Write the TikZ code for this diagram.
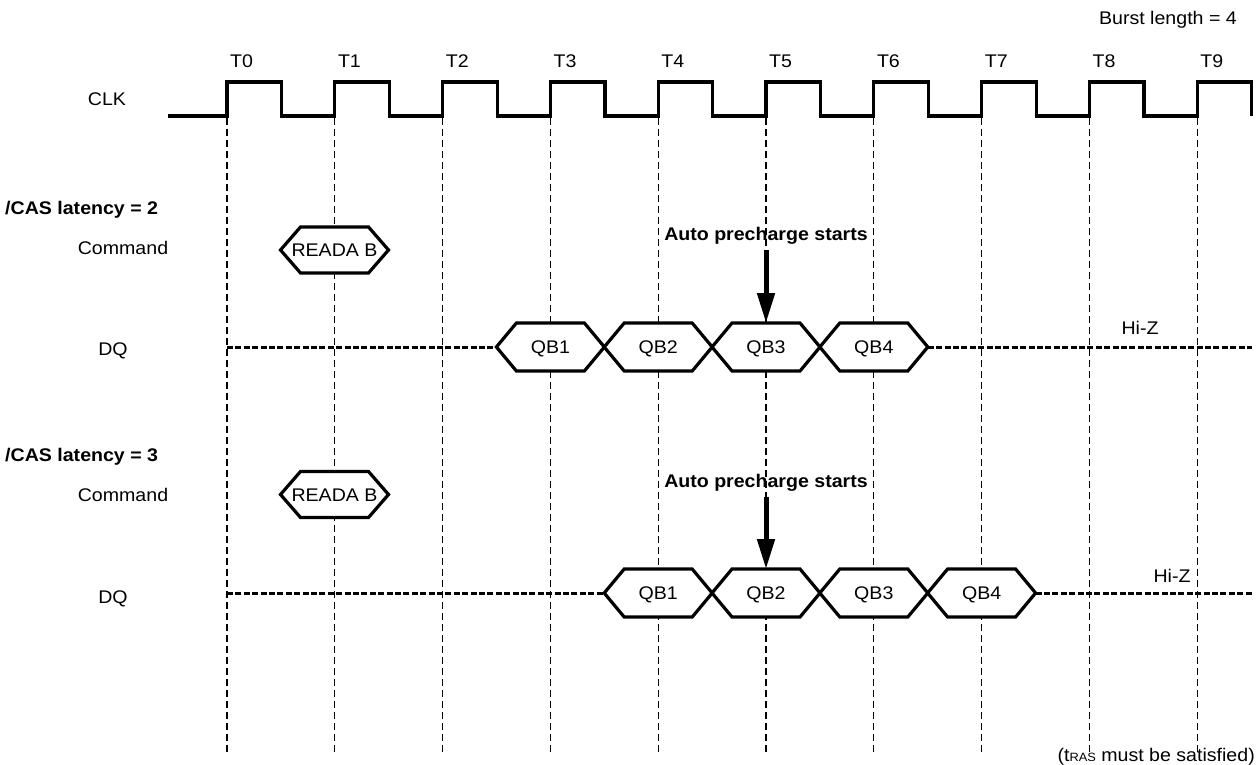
\documentclass[tikz,border=0pt]{standalone}
\usepackage{fontspec}
\setmainfont{Liberation Sans}[FakeStretch=1.07]
\usetikzlibrary{arrows.meta}
\newcommand\hexcell[5]{% name, cx, cy, text, halfheight
  \draw[cell] ({#2-54},#3) -- ({#2-34},{#3-#5}) -- ({#2+34},{#3-#5}) -- ({#2+54},#3)
    -- ({#2+34},{#3+#5}) -- ({#2-34},{#3+#5}) -- cycle;
  \node[lbl] (#1) at (#2,{#3+6.5}) {#4};
}
\begin{document}
\begin{tikzpicture}[x=1pt,y=-1pt,
  lbl/.style={inner sep=0pt, anchor=base, font=\fontsize{18.3}{21}\selectfont},
  blbl/.style={lbl, font=\fontsize{18.3}{21}\selectfont\bfseries},
  clkline/.style={line width=3.2pt, line join=miter},
  gridline/.style={line width=1.1pt, dash pattern=on 7pt off 4pt},
  hiz/.style={line width=3pt, dash pattern=on 6pt off 2.4pt},
  cell/.style={line width=3.2pt, line join=miter, fill=white},
  bigarrow/.style={line width=5pt, -{Triangle[length=30pt,width=17pt]}}]
\fill[white] (0,0) rectangle (1260,765);
\useasboundingbox (0,0) rectangle (1260,765);
% grid
\foreach \i in {0,...,9} \draw[gridline] ({227+\i*107.8},118) -- ({227+\i*107.8},755);
% clock
\draw[clkline] (168,116) foreach \i in {0,...,9} { -- ({227+\i*107.8},116) -- ({227+\i*107.8},82)
  -- ({281.5+\i*107.8},82) -- ({281.5+\i*107.8},116) };
\foreach \i in {0,...,9} \node[lbl, anchor=base west] (T\i) at ({230+\i*107.8},68) {T\i};
\node[lbl] (clk) at (107,106) {CLK};
\node[lbl, anchor=base east] (burst) at (1237,25) {Burst length = 4};
% CAS latency 2
\node[blbl, anchor=base west] (cas2) at (5,214) {/CAS latency = 2};
\node[lbl] (cmd1) at (123,254) {Command};
\node[lbl] (dq1) at (113,355) {DQ};
\draw[hiz] (227,347) -- (496.4,347);
\draw[hiz] (927.8,347) -- (1252,347);
\hexcell{rda1}{334.5}{250}{READA B}{23}
\foreach \k/\lab in {3/QB1,4/QB2,5/QB3,6/QB4} {\hexcell{c1q\k}{227+\k*107.8}{347}{\lab}{24}}
\node[blbl] (ap1) at (766,240) {Auto precharge starts};
\coordinate (ap1s) at (766,250);
\coordinate (q3top) at (766,323);
\draw[bigarrow] (ap1s) -- (q3top);
\node[lbl] (hz1) at (1140,334) {Hi-Z};
% CAS latency 3
\node[blbl, anchor=base west] (cas3) at (5,461) {/CAS latency = 3};
\node[lbl] (cmd2) at (123,501) {Command};
\node[lbl] (dq2) at (113,603) {DQ};
\draw[hiz] (227,593) -- (604.2,593);
\draw[hiz] (1035.6,593) -- (1252,593);
\hexcell{rda2}{334.5}{494.5}{READA B}{23}
\foreach \k/\lab in {4/QB1,5/QB2,6/QB3,7/QB4} {\hexcell{c2q\k}{227+\k*107.8}{593}{\lab}{24}}
\node[blbl] (ap2) at (766,487) {Auto precharge starts};
\coordinate (ap2s) at (766,497);
\coordinate (q2top) at (766,569);
\draw[bigarrow] (ap2s) -- (q2top);
\node[lbl] (hz2) at (1172,582) {Hi-Z};
% note
\node[lbl, anchor=base east] (tras) at (1255,761) {(t{\fontsize{12}{14}\selectfont RAS} must be satisfied)};
\end{tikzpicture}
\end{document}
